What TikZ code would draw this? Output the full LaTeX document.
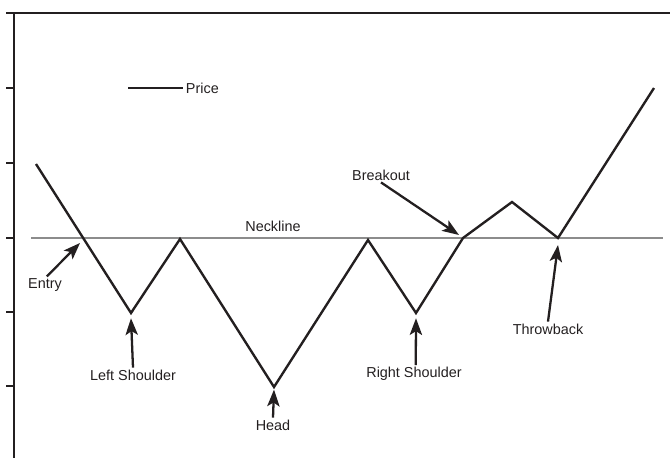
\documentclass[tikz,border=0pt]{standalone}
\usepackage{fontspec}
\setmainfont{Liberation Sans}
\definecolor{chartink}{HTML}{231F20}
\definecolor{neckgray}{HTML}{8C8C8C}
\usetikzlibrary{arrows.meta, positioning}

\begin{document}
\begin{tikzpicture}[x=0.02cm, y=-0.02cm,
      lbl/.style={font=\fontsize{8.2}{10}\selectfont, inner sep=1pt, text=chartink},
      pointer/.style={-{Stealth[length=9.5pt, width=7pt, inset=2.2pt]}, line width=1.3pt, chartink},
      price/.style={line width=1.35pt, chartink, line join=miter}]
   \useasboundingbox (0,0) rectangle (670,457);
   % Axes
   \draw[line width=1.2pt, chartink] (6,13) -- (670,13);
   \draw[line width=1.2pt, chartink] (14,13) -- (14,458);
   \foreach \ty in {88,163,238,312,386}
      \draw[line width=0.8pt, chartink] (6,\ty) -- (14,\ty);
   % Legend
   \draw[price] (128,88) -- (183,88) node[lbl, right] (leg) {Price};
   % Neckline
   \draw[neckgray, line width=0.6pt] (31,238) -- (663,238);
   \node[lbl] (neck) at (273,226) {Neckline};
   % Price path points
   \coordinate (p0) at (36,164);
   \coordinate (entry) at (82,238);
   \coordinate (lsh) at (131,313);
   \coordinate (pk1) at (180,239);
   \coordinate (head) at (274,387);
   \coordinate (pk2) at (368,240);
   \coordinate (rsh) at (416,313);
   \coordinate (brk) at (463,238);
   \coordinate (pk3) at (512,202);
   \coordinate (thr) at (558,238);
   \coordinate (p1) at (654,88);
   \draw[price] (p0) -- (lsh) -- (pk1) -- (head) -- (pk2) -- (rsh) -- (brk) -- (pk3) -- (thr) -- (p1);
   % Labels
   \node[lbl] (entrylbl) at (45,285) {Entry};
   \node[lbl] (lshlbl) at (133,375) {Left Shoulder};
   \node[lbl] (headlbl) at (273,425) {Head};
   \node[lbl] (rshlbl) at (414,374) {Right Shoulder};
   \node[lbl] (brklbl) at (381,175) {Breakout};
   \node[lbl] (thrlbl) at (548,329) {Throwback};
   % Pointers
   \draw[pointer] ([xshift=1pt]entrylbl.north) -- ([shift={(-2,5)}]entry);
   \draw[pointer] (lshlbl.north) -- ([yshift=-3pt]lsh);
   \draw[pointer] (headlbl.north) -- ([yshift=-1.5pt]head);
   \draw[pointer] ([xshift=1pt]rshlbl.north) -- ([yshift=-3pt]rsh);
   \draw[pointer] (brklbl.south) -- ([shift={(-4,-3)}]brk);
   \draw[pointer] (thrlbl.north) -- ([yshift=-4pt]thr);
\end{tikzpicture}
\end{document}
